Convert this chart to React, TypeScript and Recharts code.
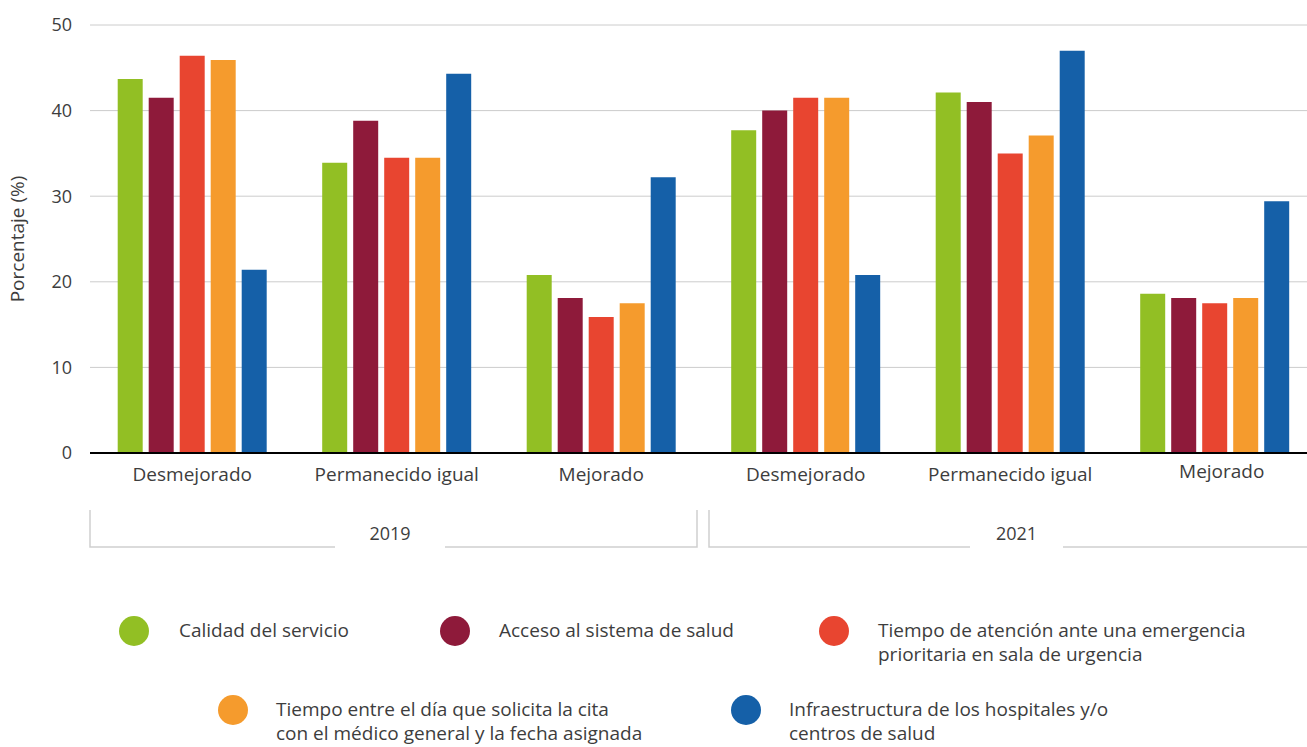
import { BarChart, Bar, XAxis, YAxis, CartesianGrid } from 'recharts';

const CATEGORIES = ['Desmejorado', 'Permanecido igual', 'Mejorado', 'Desmejorado', 'Permanecido igual', 'Mejorado'];
const YEARS = ['2019', '2021'];
const Y_TICKS = [0, 10, 20, 30, 40, 50];

const CALIDAD = [43.7, 33.9, 20.8, 37.7, 42.1, 18.6];
const ACCESO = [41.5, 38.8, 18.1, 40.0, 41.0, 18.1];
const EMERGENCIA = [46.4, 34.5, 15.9, 41.5, 35.0, 17.5];
const CITA = [45.9, 34.5, 17.5, 41.5, 37.1, 18.1];
const INFRA = [21.4, 44.3, 32.2, 20.8, 47.0, 29.4];

const SERIES = [
  { key: 'calidad', name: ['Calidad del servicio'], color: '#92bf24', values: CALIDAD },
  { key: 'acceso', name: ['Acceso al sistema de salud'], color: '#8e1a3a', values: ACCESO },
  {
    key: 'emergencia',
    name: ['Tiempo de atención ante una emergencia', 'prioritaria en sala de urgencia'],
    color: '#e84530',
    values: EMERGENCIA,
  },
  {
    key: 'cita',
    name: ['Tiempo entre el día que solicita la cita', 'con el médico general y la fecha asignada'],
    color: '#f59b2d',
    values: CITA,
  },
  {
    key: 'infra',
    name: ['Infraestructura de los hospitales y/o', 'centros de salud'],
    color: '#1560a8',
    values: INFRA,
  },
];

// legend placement (circle center x, y / text left x)
const LEGEND_POS = [
  { cx: 134, cy: 631, tx: 179 },
  { cx: 455, cy: 631, tx: 499 },
  { cx: 834, cy: 631, tx: 878 },
  { cx: 233, cy: 710, tx: 276 },
  { cx: 746, cy: 710, tx: 789 },
];

const TEXT = '#3d3d3d';
const FONT = '"Open Sans", sans-serif';

const data = CATEGORIES.map((label, i) => {
  const row: Record<string, string | number> = { label };
  SERIES.forEach((s) => {
    row[s.key] = s.values[i];
  });
  return row;
});

function CategoryTick(props: any) {
  const { x, y, payload, index } = props;
  const last = index === CATEGORIES.length - 1;
  return (
    <text
      x={x + (last ? 7 : 0)}
      y={y + (last ? -3 : 0)}
      dy="0.71em"
      textAnchor="middle"
      fill={TEXT}
      fontSize={19}
      fontFamily={FONT}
    >
      {payload.value}
    </text>
  );
}

function YearBracket({ x1, x2, gapFrom, gapTo, label }: { x1: number; x2: number; gapFrom: number; gapTo: number; label: string }) {
  return (
    <g>
      <polyline points={`${x1},510 ${x1},547 ${gapFrom},547`} fill="none" stroke="#cfcfcf" strokeWidth={1.5} />
      <polyline points={`${gapTo},547 ${x2},547 ${x2},510`} fill="none" stroke="#cfcfcf" strokeWidth={1.5} />
      <text x={(gapFrom + gapTo) / 2} y={540} textAnchor="middle" fill={TEXT} fontSize={18} fontFamily={FONT}>
        {label}
      </text>
    </g>
  );
}

export default function App() {
  return (
    <div
      style={{
        position: 'absolute',
        left: 0,
        top: 0,
        width: 1307,
        height: 747,
        overflow: 'hidden',
        background: '#fff',
        fontFamily: FONT,
      }}
    >
      <BarChart
        width={1317}
        height={500}
        data={data}
        margin={{ top: 25, right: 0, bottom: 0, left: 0 }}
        barCategoryGap={27.7}
        barGap={6}
      >
        <CartesianGrid vertical={false} stroke="#cccccc" strokeWidth={1} />
        <XAxis
          dataKey="label"
          height={47}
          axisLine={{ stroke: '#000', strokeWidth: 2 }}
          tickLine={false}
          tickSize={6}
          tickMargin={9}
          interval={0}
          tick={<CategoryTick />}
        />
        <YAxis
          width={90}
          domain={[0, 50]}
          ticks={Y_TICKS}
          axisLine={false}
          tickLine={false}
          tickSize={6}
          tickMargin={12}
          tick={{ fill: TEXT, fontSize: 18, fontFamily: FONT }}
          label={{
            value: 'Porcentaje (%)',
            angle: -90,
            position: 'insideLeft',
            dx: 12,
            style: { textAnchor: 'middle', fill: TEXT, fontSize: 19, fontFamily: FONT },
          }}
        />
        {SERIES.map((s) => (
          <Bar key={s.key} dataKey={s.key} fill={s.color} isAnimationActive={false} />
        ))}
      </BarChart>

      <svg width={1307} height={747} style={{ position: 'absolute', left: 0, top: 0, pointerEvents: 'none' }}>
        <YearBracket x1={90} x2={697} gapFrom={335} gapTo={445} label={YEARS[0]} />
        <YearBracket x1={709} x2={1330} gapFrom={970} gapTo={1063} label={YEARS[1]} />
      </svg>

      {SERIES.map((s, i) => {
        const p = LEGEND_POS[i];
        return (
          <div key={s.key}>
            <div
              style={{
                position: 'absolute',
                left: p.cx - 15,
                top: p.cy - 15,
                width: 30,
                height: 30,
                borderRadius: '50%',
                background: s.color,
              }}
            />
            <div
              style={{
                position: 'absolute',
                left: p.tx,
                top: p.cy - 13,
                fontSize: 19,
                lineHeight: '24px',
                color: TEXT,
                whiteSpace: 'nowrap',
              }}
            >
              {s.name.map((line) => (
                <div key={line} style={{ height: 24 }}>
                  {line}
                </div>
              ))}
            </div>
          </div>
        );
      })}
    </div>
  );
}
